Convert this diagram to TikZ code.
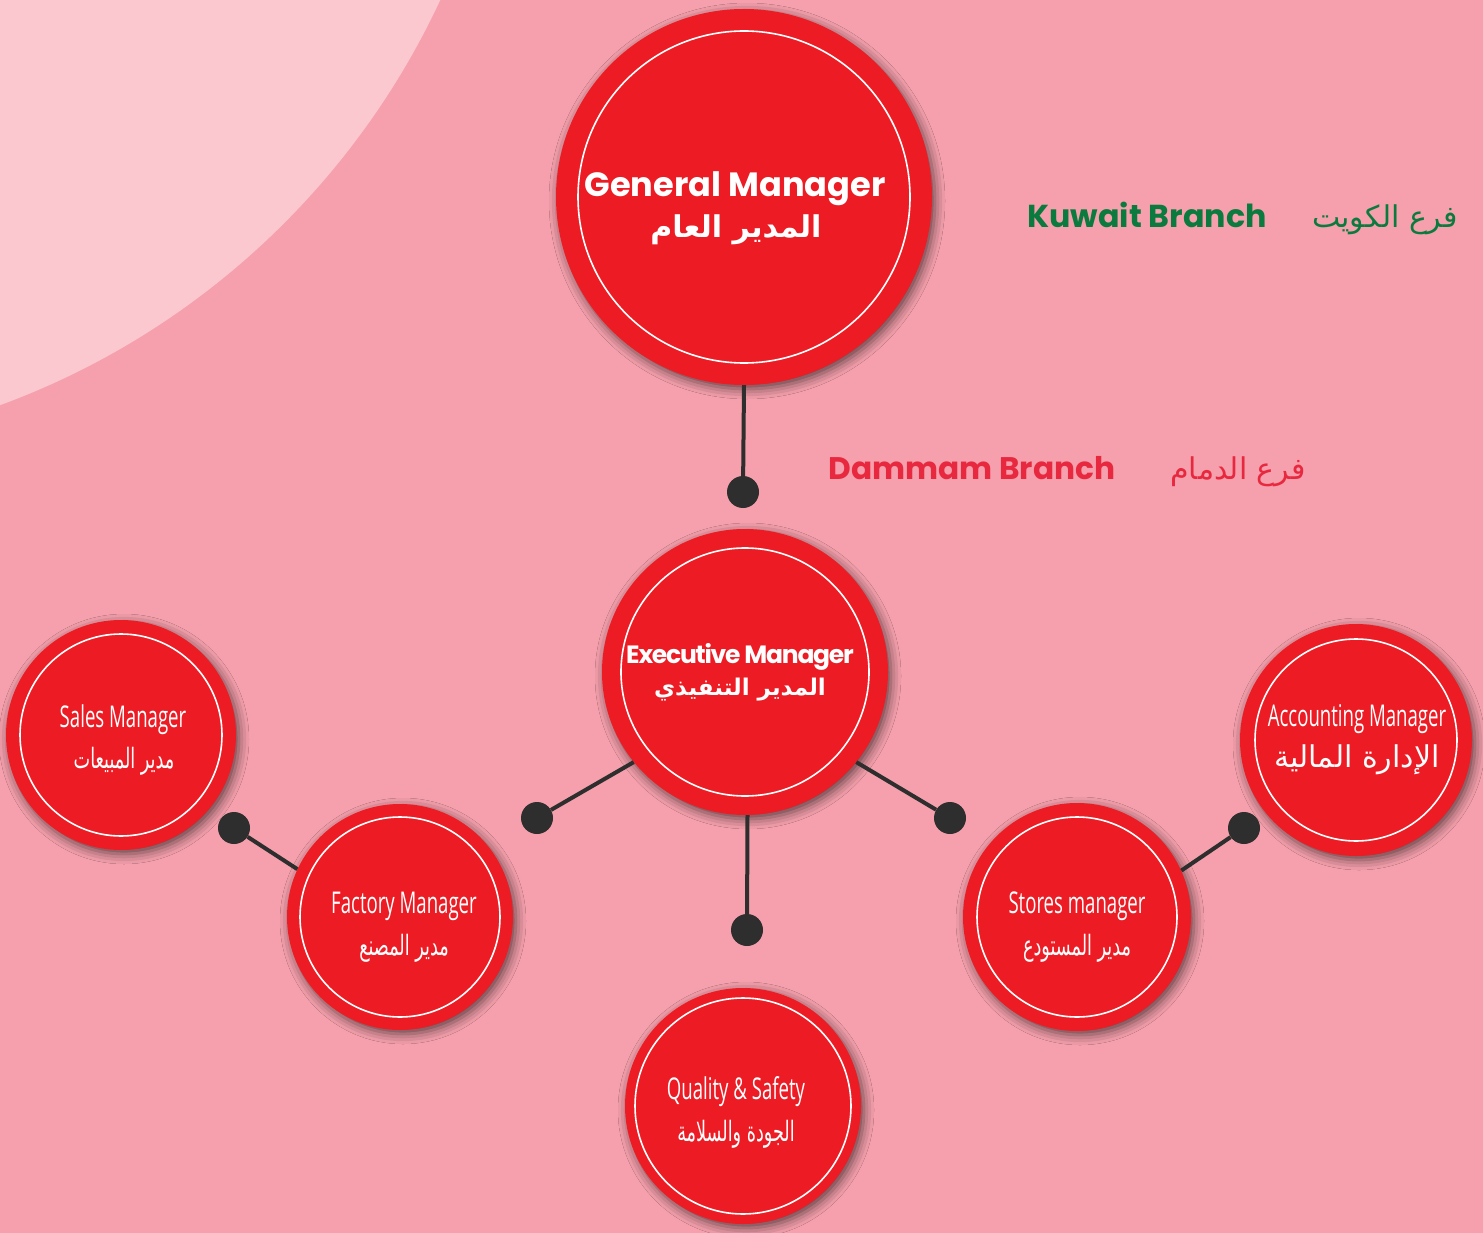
\documentclass[tikz,border=0pt]{standalone}
\usepackage{fontspec}
\setmainfont{Poppins}
\newfontfamily\headfont{Poppins}
\newfontfamily\headtight{Poppins}[LetterSpace=-5]
\newfontfamily\arfont[Script=Arabic]{DejaVu Sans}
\newfontfamily\arcond[Script=Arabic,FakeStretch=0.63]{DejaVu Sans}
\newfontfamily\condfont[FakeStretch=0.62]{Open Sans}
\TeXXeTstate=1
\usetikzlibrary{shadows.blur}
\definecolor{bgpink}{HTML}{F5A0AC}
\definecolor{lightpink}{HTML}{FBC8D0}
\definecolor{circred}{HTML}{ED1C24}
\definecolor{dotgray}{HTML}{2E2E2E}
\definecolor{kgreen}{HTML}{0B7A3E}
\definecolor{dred}{HTML}{E8283F}
\tikzset{
  role/.style={circle, fill=circred, inner sep=0pt, minimum size=#1,
    blur shadow={shadow xshift=3pt, shadow yshift=-4pt, shadow blur radius=10pt, shadow opacity=60}},
  ring/.style={draw=white, line width=1.6pt},
  joint/.style={circle, fill=dotgray, inner sep=0pt, minimum size=32pt},
  link/.style={draw=dotgray, line width=4pt},
  txt/.style={text=white, inner sep=0pt, anchor=base},
  entitle/.style={txt, font=\headfont\bfseries\fontsize{33.6}{34}\selectfont},
  artitle/.style={txt, font=\arfont\bfseries\fontsize{30}{30}\selectfont},
  encond/.style={txt, font=\condfont\fontsize{30}{30}\selectfont},
  arcondst/.style={txt, font=\arcond\fontsize{28}{28}\selectfont},
  branch/.style={inner sep=0pt, anchor=base},
}
\begin{document}
\begin{tikzpicture}[x=1pt, y=-1pt]
\useasboundingbox (0,0) rectangle (1483,1233);
\clip (0,0) rectangle (1483,1233);
\fill[bgpink] (0,0) rectangle (1483,1233);
\fill[lightpink] (-270,-330) circle[radius=783pt];

% circles
\node[role=376pt] (gm) at (744,197) {};
\node[role=286pt] (em) at (745,672) {};
\node[role=230pt] (sales) at (121,735) {};
\node[role=226pt] (fac) at (400,917) {};
\node[role=236pt] (qual) at (743,1106) {};
\node[role=228pt] (sto) at (1077,917) {};
\node[role=232pt] (acc) at (1356,740) {};

\draw[ring] (gm.center) circle[radius=166pt];
\draw[ring] (em.center) circle[radius=124pt];
\draw[ring] (sales.center) circle[radius=101pt];
\draw[ring] (fac.center) circle[radius=100pt];
\draw[ring] (qual.center) circle[radius=108pt];
\draw[ring] (sto.center) circle[radius=100pt];
\draw[ring] (acc.center) circle[radius=101pt];

% joints
\node[joint] (j0) at (743,492) {};
\node[joint] (jl) at (537,818) {};
\node[joint] (jb) at (747,930) {};
\node[joint] (jr) at (950,818) {};
\node[joint] (js) at (234,828) {};
\node[joint] (ja) at (1244,828) {};

\draw[link] (gm.south) -- (j0);
\draw[link] (em.219) -- (jl);
\draw[link] (em.271) -- (jb);
\draw[link] (em.321) -- (jr);
\draw[link] (fac.155) -- (js);
\draw[link] (sto.24) -- (ja);

% texts
\node[entitle] (gmEn) at (735,197) {General Manager};
\node[artitle] (gmAr) at (736,238) {\beginR المدير العام\endR};

\node[txt, font=\headtight\bfseries\fontsize{25}{25}\selectfont] (emEn) at (740,663) {Executive Manager};
\node[txt, font=\arfont\bfseries\fontsize{23}{23}\selectfont] (emAr) at (740,695) {\beginR المدير التنفيذي\endR};

\node[encond] (salesEn) at (123,727) {Sales Manager};
\node[arcondst] (salesAr) at (124,768) {\beginR مدير المبيعات\endR};

\node[encond] (facEn) at (404,913) {Factory Manager};
\node[arcondst] (facAr) at (404,955) {\beginR مدير المصنع\endR};

\node[encond] (qualEn) at (736,1099) {Quality \& Safety};
\node[arcondst] (qualAr) at (736,1141) {\beginR الجودة والسلامة\endR};

\node[encond] (stoEn) at (1077,913) {Stores manager};
\node[arcondst] (stoAr) at (1077,955) {\beginR مدير المستودع\endR};

\node[encond] (accEn) at (1357,726) {Accounting Manager};
\node[txt, font=\arfont\fontsize{30}{30}\selectfont] (accAr) at (1357,767) {\beginR الإدارة المالية\endR};

% branches
\node[branch, text=kgreen, font=\headfont\bfseries\fontsize{31.7}{32}\selectfont] (kwEn) at (1147,228) {Kuwait Branch};
\node[branch, text=kgreen, font=\arfont\fontsize{30}{30}\selectfont] (kwAr) at (1385,228) {\beginR فرع الكويت\endR};
\node[branch, text=dred, font=\headfont\bfseries\fontsize{31.2}{32}\selectfont] (dmEn) at (972,479) {Dammam Branch};
\node[branch, text=dred, font=\arfont\fontsize{30}{30}\selectfont] (dmAr) at (1238,479) {\beginR فرع الدمام\endR};
\end{tikzpicture}
\end{document}
